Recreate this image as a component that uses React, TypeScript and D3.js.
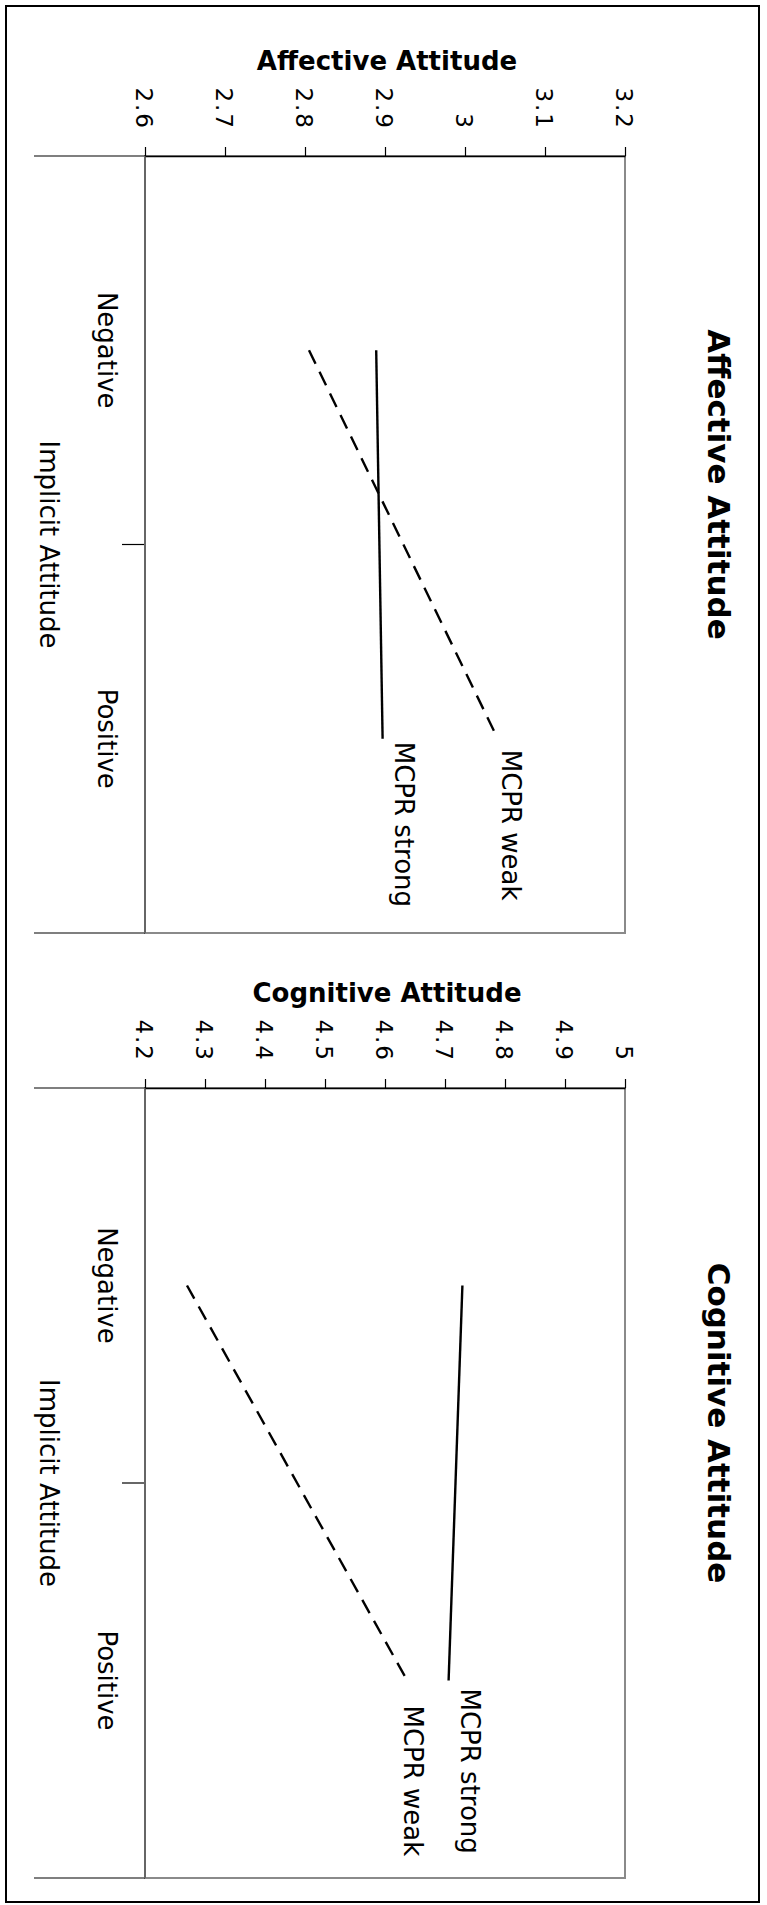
import React, { useEffect, useRef } from 'react';
import * as d3 from 'd3';

// Data
const categories = ['Negative', 'Positive'];
const seriesNames = ['MCPR strong', 'MCPR weak'];

const affectiveTicks = [2.6, 2.7, 2.8, 2.9, 3.0, 3.1, 3.2];
const affectiveStrong = [2.889, 2.897];
const affectiveWeak = [2.805, 3.041];

const cognitiveTicks = [4.2, 4.3, 4.4, 4.5, 4.6, 4.7, 4.8, 4.9, 5.0];
const cognitiveStrong = [4.729, 4.706];
const cognitiveWeak = [4.27, 4.637];

const W = 767;
const H = 1905;
const FONT = "'DejaVu Sans', Verdana, sans-serif";

const drawPanel = (svg: any, cfg: any) => {
  const left = 145;
  const right = 625;
  const { top, bottom, title, ticks, strong, weak, labelPos } = cfg;

  const x = d3.scaleLinear().domain([ticks[0], ticks[ticks.length - 1]]).range([left, right]);
  const y = d3.scaleBand().domain(categories).range([top, bottom]);
  const cy = (c: string) => (y(c) as number) + y.bandwidth() / 2;
  const mid = (top + bottom) / 2;

  const g = svg.append('g');

  // plot area frame (grey)
  g.append('rect')
    .attr('x', left).attr('y', top)
    .attr('width', right - left).attr('height', bottom - top)
    .attr('fill', 'none').attr('stroke', '#8a8a8a').attr('stroke-width', 2);

  // category axis extensions / tick marks on the left
  g.append('line').attr('x1', 34).attr('x2', left).attr('y1', top).attr('y2', top)
    .attr('stroke', '#000').attr('stroke-width', 1.2);
  g.append('line').attr('x1', 34).attr('x2', left).attr('y1', bottom).attr('y2', bottom)
    .attr('stroke', '#000').attr('stroke-width', 1.2);
  g.append('line').attr('x1', 122).attr('x2', left).attr('y1', mid).attr('y2', mid)
    .attr('stroke', '#000').attr('stroke-width', 1.2);
  g.append('line').attr('x1', left).attr('x2', left).attr('y1', top).attr('y2', bottom)
    .attr('stroke', '#666').attr('stroke-width', 2);

  // value axis on top
  const axis = d3.axisTop(x).tickValues(ticks).tickSize(9).tickSizeOuter(0)
    .tickFormat((d: any) => String(+d));
  const ag = g.append('g').attr('transform', `translate(0,${top})`).call(axis);
  ag.select('.domain').attr('stroke', '#000').attr('stroke-width', 1.5);
  ag.selectAll('.tick line').attr('stroke', '#000').attr('stroke-width', 1.2);
  ag.selectAll('.tick text')
    .attr('y', null).attr('dy', null)
    .attr('transform', 'translate(-2,-26) rotate(90)')
    .attr('text-anchor', 'end')
    .attr('dominant-baseline', 'central')
    .attr('font-family', FONT)
    .attr('font-size', 23)
    .attr('letter-spacing', 2)
    .attr('fill', '#000');

  // value axis title (horizontal)
  g.append('text')
    .attr('x', (left + right) / 2 + 2).attr('y', top - 86)
    .attr('text-anchor', 'middle')
    .attr('font-family', FONT).attr('font-weight', 'bold').attr('font-size', 26)
    .text(title);

  // chart title on the right, rotated
  g.append('text')
    .attr('transform', `translate(719,${mid - 60}) rotate(90)`)
    .attr('text-anchor', 'middle').attr('dominant-baseline', 'central')
    .attr('font-family', FONT).attr('font-weight', 'bold').attr('font-size', 31)
    .text(title);

  // category labels
  categories.forEach((c) => {
    g.append('text')
      .attr('transform', `translate(107,${cy(c)}) rotate(90)`)
      .attr('text-anchor', 'middle').attr('dominant-baseline', 'central')
      .attr('font-family', FONT).attr('font-size', 26)
      .text(c);
  });
  g.append('text')
    .attr('transform', `translate(49,${mid}) rotate(90)`)
    .attr('text-anchor', 'middle').attr('dominant-baseline', 'central')
    .attr('font-family', FONT).attr('font-size', 26)
    .text('Implicit Attitude');

  // series lines
  const line = d3.line<number>()
    .x((d) => x(d))
    .y((_d, i) => cy(categories[i]));

  [strong, weak].forEach((vals: number[], i: number) => {
    g.append('path')
      .attr('d', line(vals))
      .attr('fill', 'none')
      .attr('stroke', '#000')
      .attr('stroke-width', 2.4)
      .attr('stroke-dasharray', i === 1 ? '15,9' : null);

    // end label
    const [dx, dy] = labelPos[i];
    const ex = x(vals[vals.length - 1]);
    const ey = cy(categories[categories.length - 1]);
    g.append('text')
      .attr('transform', `translate(${ex + dx},${ey + dy}) rotate(90)`)
      .attr('dominant-baseline', 'central')
      .attr('font-family', FONT).attr('font-size', 26)
      .text(seriesNames[i]);
  });
};

const App = () => {
  const svgRef = useRef(null);

  useEffect(() => {
    const svg = d3.select(svgRef.current);
    svg.selectAll('*').remove();

    svg.append('rect').attr('width', W).attr('height', H).attr('fill', '#fff');
    // outer frame
    svg.append('rect')
      .attr('x', 6).attr('y', 6).attr('width', 753).attr('height', 1896)
      .attr('fill', 'none').attr('stroke', '#000').attr('stroke-width', 2);

    drawPanel(svg, {
      top: 156, bottom: 933, title: 'Affective Attitude',
      ticks: affectiveTicks, strong: affectiveStrong, weak: affectiveWeak,
      labelPos: [[21, 3], [13, 11]],
    });
    drawPanel(svg, {
      top: 1088, bottom: 1878, title: 'Cognitive Attitude',
      ticks: cognitiveTicks, strong: cognitiveStrong, weak: cognitiveWeak,
      labelPos: [[21, 8], [6, 25]],
    });
  }, []);

  return (
    <svg ref={svgRef} width={W} height={H}
      style={{ position: 'absolute', left: 0, top: 0 }}></svg>
  );
};

export default App;
